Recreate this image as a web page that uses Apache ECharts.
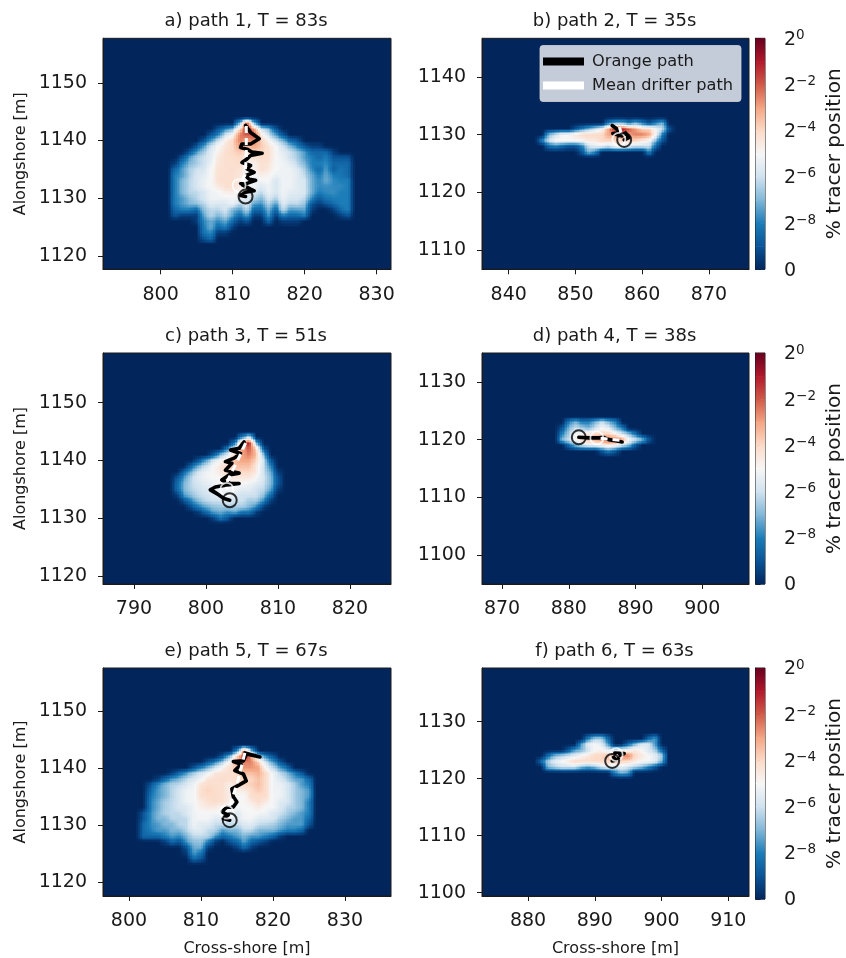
<!DOCTYPE html>
<html><head><meta charset="utf-8">
<style>html,body{margin:0;padding:0;background:#fff}#c{width:846px;height:958px;filter:blur(0.35px)}</style>
<script src="https://cdn.jsdelivr.net/npm/echarts@6/dist/echarts.min.js"></script>
</head><body><div id="c"></div>
<script>
// Level = 10 + log2(% tracer position); 0 means no tracer. Rows: [alongshore, first cross-shore, ...levels]
const plumeA = [
[1143,811,3,8,3],
[1142,808,1,2,3,6,9,7,4,3,1],
[1141,807,1,2,4,5,7.5,8,8,5.5,4,2.5,1],
[1140,806,1,2.5,4,5.3,6,7.5,7,7.5,6.2,5.2,4,3,1.5,1],
[1139,805,1,2.5,4,5,5.6,6,7,6.5,7,6.3,5.6,5,4,3,2,1,0.5,0.5],
[1138,804,1,2.5,3.5,4.5,5.2,5.8,6,6.3,6,6,6,5.8,5,4.5,4,3.3,2.5,1.5,1.5,1.5,0.5],
[1137,803,1,2.5,3.5,4,4.5,5.5,5.8,5.9,6,5.3,5.7,5.9,5.8,5,4.7,4,3.5,2.5,2,1.5,2,1,1,1],
[1136,802,0.5,2,3,3.5,4,4.7,5.6,5.8,5.8,5.9,5.2,5.2,5.8,5.6,5,4.8,4.5,3.8,3,2,2,2.2,1.5,1.5,1.5],
[1135,802,1.5,2.5,3.5,4,4.2,5,5.7,5.8,5.9,5.7,5,5.2,5.8,5.5,5,4.8,4.8,4.3,3.5,2.2,1.5,2.5,1.2,1.8,1.5],
[1134,802,2,2.5,3.5,4.2,4.5,5,5.7,5.8,5.8,5.6,5,4.8,5.3,5.1,4.7,4.8,4.8,4.5,3.8,2.7,2,2.7,2,1.8,1.5],
[1133,802,2,3,3.7,4.2,4.7,5,5.8,5.8,5.8,5.5,4.9,4.8,4.9,5,4.2,4.8,4.8,4.4,4.2,2.8,2.2,2.8,2.2,2,2],
[1132,802,2,3,3.7,4.2,4.7,5,5.4,5.8,5.8,5.4,4.8,4.8,4.3,4.8,4.2,4.8,4.8,4.4,4.2,2.8,2.2,2.3,2.2,2.2,2],
[1131,802,2,3,3.7,3.8,4.2,4.8,4.9,5.3,5.3,4.9,4.7,4.3,3.8,4.8,4.2,4.8,4.5,4.4,4.3,2.8,2,2.2,2.3,2,2],
[1130,802,2,2.5,3.2,3.7,4.2,4.8,4.8,4.8,4.9,4.7,4.4,3.7,3,4.3,3.6,4.7,4.2,4.2,3.8,2.2,1.2,1.8,2,2,2],
[1129,802,2,2.5,3,3.2,3.7,4.4,4.2,4.3,4.8,3.7,4.3,2.6,2.3,3.7,2.5,4.3,3.7,3.8,3.3,1,0.5,1,1.5,2,2],
[1128,802,1.5,2,2,1.5,3.2,3.8,3.7,4.2,3,2.5,3.7,1.5,1.5,3,1.5,3.8,2.5,2.6,2.7,0.5,0,0,0.5,1.5,2],
[1127,802,1,0.5,0.5,0.5,2.7,3.7,3,3.7,2.5,1.5,2.5,0.5,0.5,2.5,0.5,2,1.5,1.5,2,0,0,0,0,0.5,1],
[1126,805,0.5,2.2,2.8,2.2,2.8,1.5,0.5,1,0,0,1.5,0,0.5,0.5,0.5],
[1125,806,2,2.8,1.5,2,0.5],
[1124,806,1.8,2.2,0.5,0.5],
[1123,806,1,1.5]
];
const plumeB = [
[1132,855,2,3,3,2,3,2,1,2,3],
[1131,850,1,2,3,4,5,7,9,9,8,7,6,6,5,4,1],
[1130,846,3,4,5,5,5.5,6,6,6,6,7,7,8,7,7.5,7.5,7,5,2],
[1129,845,2,4,5,5,5,5,5,5.5,5.5,6,6,6,6,6,6,5.5,5,3,1],
[1128,846,1.5,2,1.5,1,1,2,4,4.5,4.5,4,5,5,4.5,4,4,4,1.5],
[1127,851,1,3,2,0,0,0,0,0,0,0,2]
];
const plumeC = [
[1144,805,2,4],
[1143,804,2,7,9,3],
[1142,803,2,4.5,7,8,6,1],
[1141,801,1,3,4.5,6,7,7.5,6.5,3],
[1140,799,1,2.5,4,5,5.5,6.5,7,7,6,4,1],
[1139,798,1.5,3,4,5,5.5,6,6.5,6.5,6.5,5.5,4,2],
[1138,797,1.5,3,4.2,4.8,5,5.5,6,6,6,6,5.5,4,2.7,0.5],
[1137,796,1,2.5,3.8,4.5,4.8,5,5,5.5,5.5,5.5,5.5,5,4.2,3,1],
[1136,796,1.5,3,3.8,4.2,4.5,4.8,5,5,5,5,4.8,4.5,4,3,1],
[1135,796,1.5,3,3.7,4,4.3,4.5,4.8,4.9,4.8,4.5,4.5,4,3.8,2.6,0.5],
[1134,796,0.5,2.5,3.2,3.8,4,4.3,4.5,4.5,4.4,4,4,4,3.2,1.5],
[1133,797,1,2.2,3.2,3.8,4,4,4.4,4,4,3.5,3.5,2.2,0.5],
[1132,798,1,2,2.7,3.2,3.4,3.5,3.5,3.5,3,2.2,0.5],
[1131,799,0.5,1.5,2.5,2.8,2.3,2.7,1.8,1.8,0.5],
[1130,801,0.5,1.8,1]
];
const plumeD = [
[1123,880,2,3,2,2,3,4,3,2],
[1122,879,1,3,4,3.5,3,4,5,4.5,3,2],
[1121,879,2,3.5,5,5,5.5,6,6,6,5,4,3,1.5],
[1120,879,3,4,5,6,6.5,7,7.5,8,8,7,5,4,3,1],
[1119,880,1.5,3,4,4.5,4.5,5,5.5,5,4,3,1],
[1118,885,1,2,1]
];
const plumeE = [
[1143,815,2,7,3],
[1142,813,1,3,6,9,7,4,2,1],
[1141,811,1,2,3.5,5.2,7,7.5,7.5,6,4,2.5,1],
[1140,809,1,2,3,4.2,5.2,5.8,6.5,7.2,7.2,7,5,3.8,2.5,1.5],
[1139,806,0.5,1.5,2.5,3.5,4.2,4.8,5.6,5.7,5.8,5.9,6.5,6.5,6.8,5.9,4.8,3.8,3,2,1],
[1138,804,0.5,1.5,2.5,3,3.8,4.3,4.8,5.7,5.8,5.9,5.8,5.9,6,6,6.5,5.9,4.8,4.3,3.6,2.7,2.5,1.5],
[1137,803,1,2.2,3,3.6,3.8,4.3,4.8,5.7,5.9,5.8,5.8,5.3,5.8,6,6.2,6.5,5.9,4.8,4.7,4.2,3.5,2.5,2],
[1136,803,1.5,2.5,3,3.7,4.2,4.8,4.9,5.8,6.1,5.9,5.8,5.3,5.3,5.4,5.9,6.3,5.9,4.8,4.8,4.2,3.5,3,2.5],
[1135,803,1.8,2.5,3,3.7,4.2,4.8,4.9,5.8,5.9,5.9,5.8,5.3,5,5,5.9,5.9,5.9,4.9,4.8,4.2,3.5,3,2.5],
[1134,803,2,2.8,3.5,3.8,4.2,4.8,4.9,5.4,5.8,5.9,5.8,5.3,5,5,5.4,5.9,5.4,4.9,4.4,4.2,3.5,3,2],
[1133,803,2,2.8,3.5,3.8,4.2,4.3,4.8,5.3,5.4,5.4,4.9,4.9,4.9,5,5,5.4,4.9,4.9,4.3,3.7,3.5,3,2],
[1132,802,1,2.2,3,3.6,3.8,3.8,4.3,4.8,4.9,4.9,4.9,4.9,4.9,4.4,4.9,5,4.9,4.8,4.3,4,3.5,3,2.5,2],
[1131,802,1,2.2,3,3,3.7,3.7,3.8,4.8,4.9,4.9,4.4,4.4,4.4,4.4,4.8,4.9,4.4,4.3,4.2,3.5,3,2.5,2.5,1.5],
[1130,802,1.5,2.2,2.5,3,3,3.7,3.8,4.8,4.4,4.4,3.8,3.8,3.8,3.8,4.3,4.4,3.8,3.7,3.5,3,2.5,2.5,2.5,1],
[1129,802,1.5,2,2.5,2.5,3,3,3.7,4.4,4.4,3.8,3.7,2.5,3,3,3.8,3.8,3,3,3,2.5,2,2,1.5],
[1128,802,1.5,1.5,1.5,2,2.5,2.2,3,3.8,3.8,3.7,2.5,1.5,2,2.5,3,2.5,2.5,2,1.5,0.5],
[1127,805,0.5,1.5,1,2.5,3.2,3.3,2,0.5,0,1,1.5,2.6,1.5,1,0.5],
[1126,808,1,2.8,2.8,0.5,0,0,0,0.5,1.5,0.5],
[1125,808,0.5,2.5,1.8],
[1124,809,1.5,1]
];
const plumeF = [
[1127,889,2,3.5,3.5,1.5,0,0,0,0,0,1.5,2.5],
[1126,888,2.5,4.5,5,4.5,2.5,0,0,1.5,3,4.3,4.3,2.5],
[1125,886,1,2.5,3,4,5,5.2,4.5,4,5,5,5.5,5,4.3,3.5,1.5],
[1124,883,1.5,3,3.5,4,4.5,5,5.5,6,6,6.5,7,7.5,7.5,6,5.5,5,4.5,3.5],
[1123,882,1.5,3.5,4.5,5,5.5,6,6,6,6,6,6,6.5,6,6,5.5,5,5,4.5,3],
[1122,883,3,3.5,4,4,4,3,2.5,3,4,4.5,4,4.5,4,3.5,3,2,1],
[1121,893,2,3,2.5]
];

const orangeA = [[811.8,1142.6],[812.5,1141.4],[813.7,1140.3],[812.5,1139.4],[811.3,1139.4],[811.1,1138.8],[812,1138.5],[812.7,1138],[814.1,1137.8],[812.5,1137.4],[812,1136.8],[811.3,1136.2],[812.5,1135.7],[812,1135.1],[813,1134.5],[811.8,1133.9],[812.3,1133.3],[813.2,1133.1],[811.8,1132.5],[811.1,1132.5],[812.5,1131.6],[813,1131.3],[811.6,1131],[811.1,1130.5],[811.8,1130.3]];
const orangeB = [[855.5,1131.6],[856.2,1131],[856.5,1130.3],[855.6,1130.2],[856.5,1129.9],[857,1129.8],[857.5,1130.3],[858,1129.5],[857.3,1129.1]];
const orangeC = [[805.3,1143.2],[804.6,1142.1],[803.4,1141.8],[804.8,1141.2],[803.9,1140.4],[802.7,1139.8],[803.6,1139.5],[802.7,1138.3],[804.6,1137.8],[803.2,1137.5],[802.2,1136.6],[803.4,1136],[804.6,1136],[802.7,1135.7],[801.3,1135.4],[800.6,1134.9],[801.8,1134],[801.1,1134.6],[802.5,1133.4],[803.3,1133.1]];
const orangeD = [[888,1119.6],[887,1119.8],[886,1120],[885.2,1120.4],[884.5,1120.3],[883,1120.3],[881.5,1120.4]];
const orangeE = [[816.1,1142.6],[818.2,1141.9],[816.3,1142.4],[815.9,1141.2],[814.5,1141.1],[815.6,1140.6],[814.7,1139.5],[815.9,1138.9],[816.3,1137.7],[815.2,1136.9],[814.3,1136.3],[814.5,1134.9],[815,1134],[814.5,1133.1],[813.6,1133.1],[812.9,1132.3],[813.8,1131.7],[813.1,1131.1],[814,1130.8]];
const orangeF = [[893,1124.5],[894.4,1124.4],[893.5,1124],[892.8,1123.7],[893.6,1123.4],[892.6,1123.1]];
const drifterA = [[811.9,1142.5],[811.9,1137],[811.7,1134],[810.9,1132.2]];
const drifterB = [[856.6,1131.3],[856.9,1130],[856.5,1129.2]];
const drifterC = [[805.5,1143],[804.4,1140],[803,1136.5],[802.9,1135]];
const drifterD = [[887.6,1119.9],[886,1120.1],[884.2,1120.3]];
const drifterE = [[816.1,1142.6],[815.2,1138],[814.2,1134],[813.6,1132.2]];
const drifterF = [[893.4,1123.8],[893.2,1124.2]];

const panelTitles = ['a) path 1, T = 83s','b) path 2, T = 35s','c) path 3, T = 51s','d) path 4, T = 38s','e) path 5, T = 67s','f) path 6, T = 63s'];
const crossRanges = [[792,832],[836,876],[785.7,825.7],[867,907],[796.4,836.4],[873.1,913.1]];
const alongRanges = [[1117.7,1157.7],[1106.7,1146.7],[1118.6,1158.6],[1095,1135],[1117.5,1157.5],[1099.4,1139.4]];
const crossTicks = [[800,810,820,830],[840,850,860,870],[790,800,810,820],[870,880,890,900],[800,810,820,830],[880,890,900,910]];
const alongTicks = [[1120,1130,1140,1150],[1110,1120,1130,1140],[1120,1130,1140,1150],[1100,1110,1120,1130],[1120,1130,1140,1150],[1100,1110,1120,1130]];
const colormapStops = [[0,'#02265c'],[1,'#0a5497'],[2,'#1c7db8'],[3,'#80b7d8'],[4,'#d0e2ef'],[5,'#f6f6f6'],[6,'#fcdac7'],[7,'#f4a582'],[8,'#d05a48'],[9,'#b2182b'],[10,'#67001f']];
const plumes = [plumeA,plumeB,plumeC,plumeD,plumeE,plumeF];
const oranges = [orangeA,orangeB,orangeC,orangeD,orangeE,orangeF];
const drifters = [drifterA,drifterB,drifterC,drifterD,drifterE,drifterF];

const hexRgb = h => [1,3,5].map(i => parseInt(h.substr(i,2),16));
const rgbStops = colormapStops.map(s => hexRgb(s[1]));
function levelColor(l){
  l = Math.max(0,Math.min(10,l));
  const i = Math.min(9,Math.floor(l)), f = l-i, a = rgbStops[i], b = rgbStops[i+1];
  return 'rgb('+a.map((v,k)=>Math.round(v+(b[k]-v)*f)).join(',')+')';
}
function plumeCells(rows){
  const m = new Map();
  rows.forEach(r => { for(let k=2;k<r.length;k++) if(r[k]>0) m.set((r[1]+k-2)+'_'+r[0], r[k]); });
  const get = (x,y) => m.get(x+'_'+y) || 0, seen = new Set(), out = [];
  m.forEach((v,key) => {
    const [x,y] = key.split('_').map(Number);
    for(const dx of [-1,0]) for(const dy of [-1,0]){
      const cx=x+dx, cy=y+dy, id=cx+'_'+cy;
      if(seen.has(id)) continue; seen.add(id);
      out.push([cx,cy,get(cx,cy),get(cx+1,cy),get(cx,cy+1),get(cx+1,cy+1)]);
    }
  });
  return out;
}
const SUB = 4;
function renderPlume(params, api){
  const x=api.value(0), y=api.value(1), a=api.value(2), b=api.value(3), c=api.value(4), d=api.value(5), children=[];
  for(let i=0;i<SUB;i++) for(let j=0;j<SUB;j++){
    const p0=api.coord([x+i/SUB,y+(j+1)/SUB]), p1=api.coord([x+(i+1)/SUB,y+j/SUB]);
    const x0=Math.round(p0[0]), x1=Math.round(p1[0]), y0=Math.round(p0[1]), y1=Math.round(p1[1]);
    if(x1<=x0||y1<=y0) continue;
    const u=(i+.5)/SUB, v=(j+.5)/SUB, l=(a*(1-u)+b*u)*(1-v)+(c*(1-u)+d*u)*v;
    children.push({type:'rect',shape:{x:x0,y:y0,width:x1-x0,height:y1-y0},style:{fill:levelColor(l)}});
  }
  return {type:'group',children};
}
function renderColorbar(params, api){
  const l0=api.value(0), l1=api.value(1), p0=api.coord([0,l1]), p1=api.coord([1,l0]);
  return {type:'rect',shape:{x:p0[0],y:p0[1],width:p1[0]-p0[0],height:p1[1]-p0[1]+.5},
    style:{fill:new echarts.graphic.LinearGradient(0,1,0,0,[{offset:0,color:colormapStops[l0][1]},{offset:1,color:colormapStops[l1][1]}])}};
}

const ink='#1a1a1a', tickFs=19, titleFs=18, nameFs=16, font='"DejaVu Sans"';
const tops=[38.3,38.3,353,353,668,668], lefts=[103,482,103,482,103,482], H=231, W=[288,267];
const grid=[],xAxis=[],yAxis=[],title=[],series=[];
const fmt = v => String(Math.round(v));
const axisBase = {axisLine:{lineStyle:{color:ink,width:1}},splitLine:{show:false}};
const tickStyle = {length:5,lineStyle:{color:ink,width:1}};
const labelStyle = {fontFamily:font,fontSize:tickFs,color:ink,formatter:fmt,hideOverlap:false,showMinLabel:true,showMaxLabel:true};
panelTitles.forEach((t,i)=>{
  const w=W[i%2];
  grid.push({left:lefts[i],top:tops[i],width:w,height:H,show:true,backgroundColor:'#02265c',borderColor:ink,borderWidth:1});
  xAxis.push({...axisBase,type:'value',gridIndex:i,min:crossRanges[i][0],max:crossRanges[i][1],
    axisTick:{...tickStyle,customValues:crossTicks[i]},axisLabel:{...labelStyle,margin:16,customValues:crossTicks[i]},
    name:i>=4?'Cross-shore [m]':'',nameLocation:'middle',nameGap:45,nameTextStyle:{fontFamily:font,fontSize:nameFs,color:ink}});
  yAxis.push({...axisBase,type:'value',gridIndex:i,min:alongRanges[i][0],max:alongRanges[i][1],
    axisTick:{...tickStyle,customValues:alongTicks[i]},axisLabel:{...labelStyle,margin:16,padding:[3,0,0,0],customValues:alongTicks[i]},
    name:i%2===0?'Alongshore [m]':'',nameLocation:'middle',nameGap:74,nameRotate:90,nameTextStyle:{fontFamily:font,fontSize:nameFs,color:ink}});
  title.push({text:t,left:lefts[i]+w/2-1,top:tops[i]-26,padding:0,textAlign:'center',textStyle:{fontFamily:font,fontSize:titleFs,fontWeight:'normal',color:ink}});
  series.push({type:'custom',silent:true,clip:true,coordinateSystem:'cartesian2d',xAxisIndex:i,yAxisIndex:i,data:plumeCells(plumes[i]),
    dimensions:['x','y','a','b','c','d'],encode:{x:0,y:1},renderItem:renderPlume,z:1});
  series.push({type:'line',name:'Orange path',xAxisIndex:i,yAxisIndex:i,data:oranges[i],showSymbol:false,symbol:'none',silent:true,z:3,
    lineStyle:{color:'#000',width:3.6,join:'round',cap:'round'},itemStyle:{color:'#000'}});
  series.push({type:'line',name:'Mean drifter path',xAxisIndex:i,yAxisIndex:i,data:drifters[i],showSymbol:false,symbol:'none',silent:true,z:4,
    lineStyle:{color:'#fff',width:3,type:[7,5]},itemStyle:{color:'#fff'}});
  series.push({type:'scatter',xAxisIndex:i,yAxisIndex:i,data:[drifters[i][drifters[i].length-1]],symbol:'circle',symbolSize:13,silent:true,z:4,
    itemStyle:{color:'rgba(0,0,0,0)',borderColor:'#fff',borderWidth:1.8}});
  series.push({type:'scatter',xAxisIndex:i,yAxisIndex:i,data:[oranges[i][oranges[i].length-1]],symbol:'circle',symbolSize:14,silent:true,z:5,
    itemStyle:{color:'rgba(0,0,0,0)',borderColor:'#000',borderWidth:2}});
});
// colour bars on the right column
[1,3,5].forEach(i=>{
  const gi=grid.length, segs=[];
  for(let k=0;k<colormapStops.length-1;k++) segs.push([colormapStops[k][0],colormapStops[k+1][0]]);
  grid.push({left:755.5,top:tops[i],width:14,height:H,show:true,backgroundColor:'transparent',borderColor:ink,borderWidth:1});
  xAxis.push({type:'value',gridIndex:gi,min:0,max:1,show:false});
  yAxis.push({type:'value',gridIndex:gi,position:'right',min:0,max:10,interval:2,splitLine:{show:false},
    axisLine:{show:true,lineStyle:{color:ink,width:1}},axisTick:{show:true,length:5,lineStyle:{color:ink,width:1}},
    axisLabel:{fontFamily:font,fontSize:tickFs,color:ink,margin:19,align:'left',padding:[3,0,0,0],
      formatter:v=> v===0 ? '{b|0}' : '{b|2}{s|'+(v===10?'0':'\u2212'+(10-v))+'}',
      rich:{b:{fontFamily:font,fontSize:tickFs,color:ink},s:{fontFamily:font,fontSize:13.5,color:ink,padding:[0,0,9,0]}}},
    name:'% tracer position',nameLocation:'middle',nameGap:60,nameRotate:90,nameTextStyle:{fontFamily:font,fontSize:20,color:ink}});
  series.push({type:'custom',silent:true,xAxisIndex:gi,yAxisIndex:gi,coordinateSystem:'cartesian2d',data:segs,encode:{y:[0,1]},
    renderItem:renderColorbar,z:1});
});

const chart = echarts.init(document.getElementById('c'),null,{renderer:'canvas',width:846,height:958});
chart.setOption({animation:false,backgroundColor:'#fff',grid,xAxis,yAxis,title,series,
  legend:{data:[{name:'Orange path',icon:'rect',itemStyle:{color:'#000'}},{name:'Mean drifter path',icon:'rect',itemStyle:{color:'#fff'}}],
    orient:'vertical',left:540,top:45.5,itemWidth:41,itemHeight:8,itemGap:8,padding:[8,8,8,3],selectedMode:false,
    backgroundColor:'rgba(255,255,255,0.77)',borderColor:'rgba(210,210,210,0.8)',borderWidth:1,borderRadius:3,
    textStyle:{fontFamily:font,fontSize:16.2,color:ink,padding:[0,0,0,3]}}
});
</script></body></html>
